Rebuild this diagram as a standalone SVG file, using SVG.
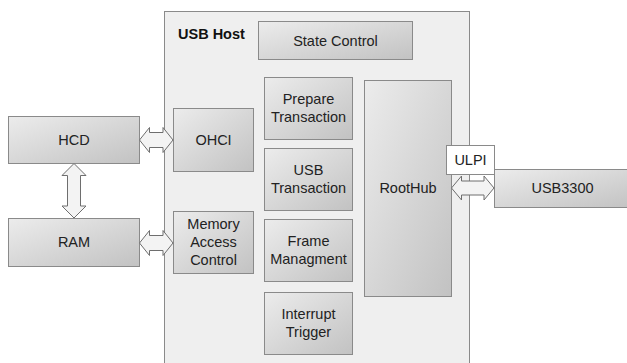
<svg xmlns="http://www.w3.org/2000/svg" width="627" height="363" viewBox="0 0 627 363">
  <defs>
    <linearGradient id="boxFill" x1="0" y1="0" x2="1" y2="1">
      <stop offset="0" stop-color="#ececec"/>
      <stop offset="1" stop-color="#c2c2c2"/>
    </linearGradient>
    <style>
      .box { fill: url(#boxFill); stroke: #8a8a8a; stroke-width: 1; }
      .host { fill: #efefef; stroke: #8a8a8a; stroke-width: 1; }
      .plain { fill: #ffffff; stroke: #8a8a8a; stroke-width: 1; }
      .arrow { fill: #f3f3f3; stroke: #6e6e6e; stroke-width: 1; stroke-linejoin: miter; }
      text { font-family: "Liberation Sans", Arial, sans-serif; font-size: 14.5px; fill: #222222; text-anchor: middle; }
      .title { font-weight: bold; text-anchor: start; fill: #111111; }
    </style>
  </defs>
  <rect width="627" height="363" fill="#ffffff"/>

  <!-- host controller enclosure -->
  <g id="usb-host">
    <rect class="host" x="164.5" y="11.5" width="305" height="360"/>
    <text class="title" x="178" y="39">USB Host</text>
  </g>

  <g id="state-control">
    <rect class="box" x="258.5" y="21.5" width="154" height="38"/>
    <text x="335.5" y="45.5">State Control</text>
  </g>

  <g id="prepare-transaction">
    <rect class="box" x="264.5" y="77.5" width="88" height="62"/>
    <text x="308.5" y="104">Prepare</text>
    <text x="308.5" y="122">Transaction</text>
  </g>

  <g id="usb-transaction">
    <rect class="box" x="264.5" y="148.5" width="88" height="62"/>
    <text x="308.5" y="175">USB</text>
    <text x="308.5" y="193">Transaction</text>
  </g>

  <g id="frame-managment">
    <rect class="box" x="264.5" y="219.5" width="88" height="62"/>
    <text x="308.5" y="246">Frame</text>
    <text x="308.5" y="264">Managment</text>
  </g>

  <g id="interrupt-trigger">
    <rect class="box" x="264.5" y="292.5" width="88" height="62"/>
    <text x="308.5" y="319">Interrupt</text>
    <text x="308.5" y="337">Trigger</text>
  </g>

  <g id="ohci">
    <rect class="box" x="173.5" y="108.5" width="80" height="63"/>
    <text x="213.5" y="145">OHCI</text>
  </g>

  <g id="memory-access-control">
    <rect class="box" x="173.5" y="211.5" width="80" height="62"/>
    <text x="213.5" y="229">Memory</text>
    <text x="213.5" y="247">Access</text>
    <text x="213.5" y="265">Control</text>
  </g>

  <g id="roothub">
    <rect class="box" x="364.5" y="80.5" width="87" height="216"/>
    <text x="408" y="193">RootHub</text>
  </g>

  <g id="hcd">
    <rect class="box" x="8.5" y="116.5" width="131" height="47"/>
    <text x="74" y="145">HCD</text>
  </g>

  <g id="ram">
    <rect class="box" x="8.5" y="218.5" width="131" height="48"/>
    <text x="74" y="247">RAM</text>
  </g>

  <g id="usb3300">
    <rect class="box" x="494.5" y="169.5" width="140" height="38"/>
    <text x="562.5" y="193">USB3300</text>
  </g>

  <!-- block arrows between components -->
  <g id="connectors">
    <path class="arrow" d="M139.5,140 L149.5,127.5 L149.5,132.5 L163,132.5 L163,127.5 L173,140 L163,152.5 L163,147.5 L149.5,147.5 L149.5,152.5 Z"/>
    <path class="arrow" d="M139.5,243 L149.5,230.5 L149.5,235.5 L163,235.5 L163,230.5 L173,243 L163,255.5 L163,250.5 L149.5,250.5 L149.5,255.5 Z"/>
    <path class="arrow" d="M74,163.5 L86,175.5 L80.5,175.5 L80.5,206 L86,206 L74,218 L62,206 L67.5,206 L67.5,175.5 L62,175.5 Z"/>
    <path class="arrow" d="M451.5,188 L461.5,176 L461.5,181 L484,181 L484,176 L494,188 L484,200 L484,195 L461.5,195 L461.5,200 Z"/>
  </g>

  <g id="ulpi">
    <rect class="plain" x="446.5" y="145.5" width="48" height="29"/>
    <text x="470.5" y="165">ULPI</text>
  </g>
</svg>
